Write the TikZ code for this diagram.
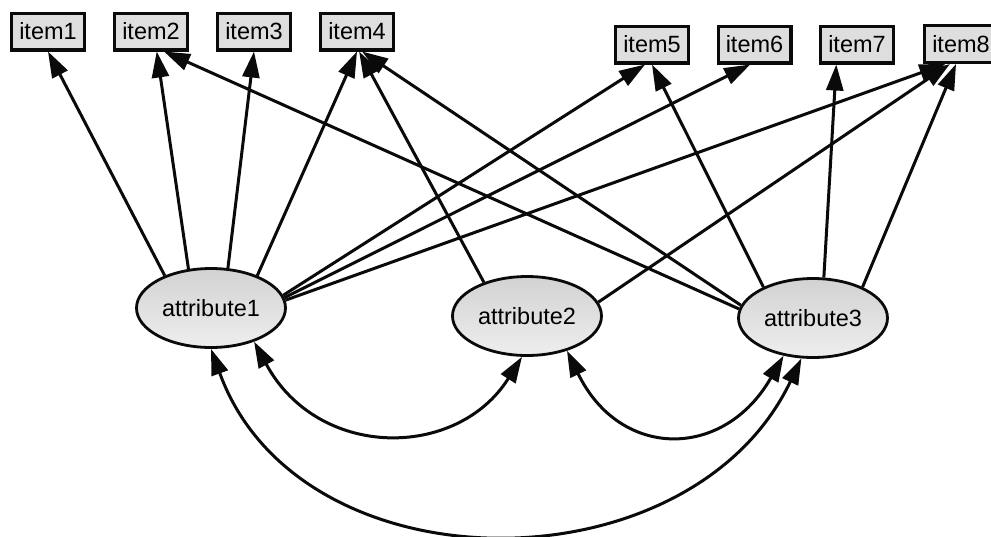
\documentclass[tikz,border=0pt]{standalone}
\usepackage{fontspec}
\setmainfont{Liberation Sans}
\usetikzlibrary{arrows.meta,shapes.geometric}
\definecolor{boxgray}{RGB}{222,222,222}
\definecolor{elltop}{RGB}{210,210,210}
\definecolor{ellbot}{RGB}{238,238,238}
\definecolor{ink}{RGB}{10,10,10}
\begin{document}
\begin{tikzpicture}[x=1pt,y=-1pt,
  itembox/.style={rectangle, draw=ink, line width=3.2pt, fill=boxgray,
    minimum width=72.8pt, minimum height=36.8pt, inner sep=0pt,
    font=\fontsize{23.5}{26}\selectfont},
  attrnode/.style={ellipse, draw=ink, line width=2.8pt, top color=elltop, bottom color=ellbot,
    minimum width=149pt, minimum height=79pt, inner sep=0pt,
    font=\fontsize{23.5}{26}\selectfont},
  tip/.tip={Triangle[length=26pt,width=17pt]},
  arr/.style={draw=ink, line width=3pt, -tip},
  biarr/.style={draw=ink, line width=3pt, tip-tip}
]
\fill[white] (0,0) rectangle (991,536);
\useasboundingbox (0,0) rectangle (991,536);

% items
\node[itembox] (i1) at (48,31.5) {item1};
\node[itembox] (i2) at (151,31.5) {item2};
\node[itembox] (i3) at (254,31.5) {item3};
\node[itembox] (i4) at (357,31.5) {item4};
\node[itembox] (i5) at (652,44.5) {item5};
\node[itembox] (i6) at (754.5,44.5) {item6};
\node[itembox] (i7) at (857,44.5) {item7};
\node[itembox] (i8) at (961,44) {item8};

% attributes
\node[attrnode] (a1) at (211,308) {attribute1};
\node[attrnode] (a2) at (527,316) {attribute2};
\node[attrnode] (a3) at (813,318) {attribute3};

% attribute1 loadings
\draw[arr] (a1.145.5) -- (i1.south);
\draw[arr] (a1.120) -- (i2.-74);
\draw[arr] (a1.67) -- (i3.south);
\draw[arr] (a1.35.5) -- (i4.-90);
\draw[arr] (a1.10) -- (i5.-109);
\draw[arr] (a1.8) -- (i6.-102);
\draw[arr] (a1.6) -- (i8.-128.7);

% attribute2 loadings
\draw[arr] (a2.142) -- (i4.-84);
\draw[arr] (a2.11) -- (i8.-119);

% attribute3 loadings
\draw[arr] (a3.173) -- (i2.-57.5);
\draw[arr] (a3.170) -- (i4.-76);
\draw[arr] (a3.148.7) -- (i5.south);
\draw[arr] (a3.75) -- (i7.-136);
\draw[arr] (a3.32.4) -- (i8.-104);

% correlations
\draw[biarr] (a1.-38) .. controls (318,460) and (457,460) .. (a2.-97);
\draw[biarr] (a2.-41) .. controls (620,460) and (724,460) .. (a3.-128);
\draw[biarr] (a1.-90) .. controls (299,592) and (690,592) .. (a3.-106);
\end{tikzpicture}
\end{document}
